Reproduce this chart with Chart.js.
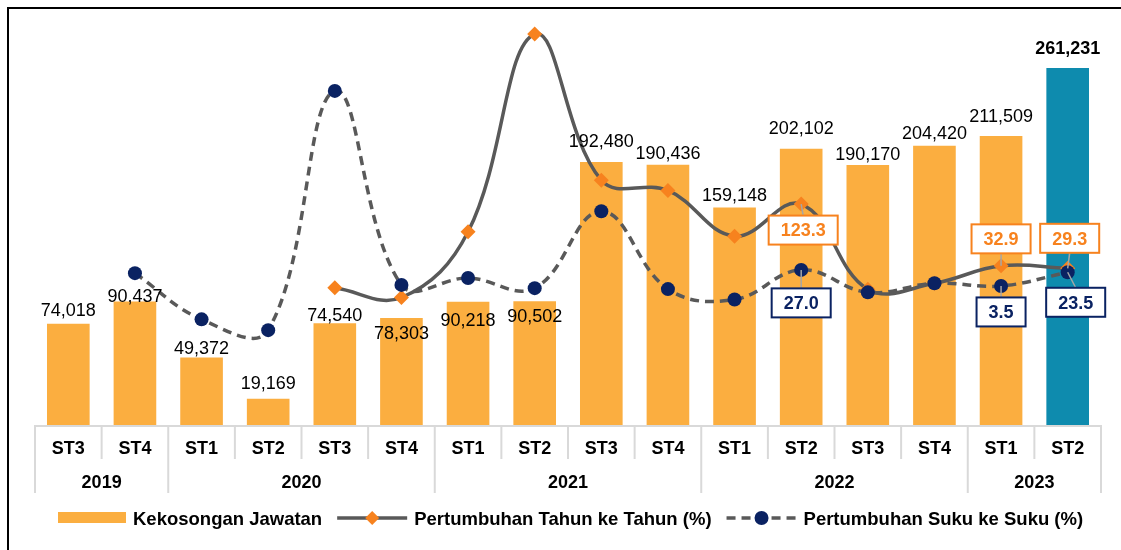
<!DOCTYPE html>
<html>
<head>
<meta charset="utf-8">
<script src="https://cdn.jsdelivr.net/npm/chart.js@4.4.0/dist/chart.umd.min.js"></script>
<style>
html,body{margin:0;padding:0;background:#fff;}
#wrap{width:1121px;height:550px;position:relative;}
</style>
</head>
<body>
<div id="wrap"><canvas id="c" width="1121" height="550"></canvas></div>
<script>
// ---- data ----
const categories = ['ST3','ST4','ST1','ST2','ST3','ST4','ST1','ST2','ST3','ST4','ST1','ST2','ST3','ST4','ST1','ST2'];
const years = ['2019','2019','2020','2020','2020','2020','2021','2021','2021','2021','2022','2022','2022','2022','2023','2023'];
const vacancies = [74018,90437,49372,19169,74540,78303,90218,90502,192480,190436,159148,202102,190170,204420,211509,261231];
const yoyGrowth = [null,null,null,null,0.7,-13.4,82.7,372.1,158.2,143.2,76.4,123.3,-1.2,7.3,32.9,29.3];
const qoqGrowth = [null,22.2,-45.4,-61.2,288.9,5.0,15.2,0.3,112.7,-1.1,-16.4,27.0,-5.9,7.5,3.5,23.5];
const seriesNames = ['Kekosongan Jawatan','Pertumbuhan Tahun ke Tahun (%)','Pertumbuhan Suku ke Suku (%)'];
const calloutIndexes = [11,14,15];

// ---- styling (kept apart from data) ----
const FONT = '"Liberation Sans", Arial, sans-serif';
const ORANGE_BAR = '#FBAE40';
const TEAL_BAR = '#0E8BAE';
const LINE_GRAY = '#595959';
const DIAMOND = '#F7821E';
const NAVY = '#0A2262';
const AXIS_GRAY = '#D9D9D9';
// vertical offset of each bar label centre relative to the bar top (px)
const barLabelShift = [-14,-6,-10,-16,-9,15,18,14,-21,-12,-13,-21,-12,-13,-20,-20];
// callout box offsets relative to the point (px)
const yoyCalloutOffset = {11:[2,26],14:[0,-27],15:[2,-30]};
const qoqCalloutOffset = {11:[0,33],14:[0,26],15:[8,30]};

const deco = {
  id: 'deco',
  beforeDraw(chart) {
    const c = chart.ctx;
    c.save();
    c.fillStyle = '#fff';
    c.fillRect(0, 0, chart.width, chart.height);
    c.fillStyle = '#000';
    c.fillRect(7, 7, chart.width - 7, 2);
    c.fillRect(7, 7, 2, chart.height - 7);
    c.restore();
  },
  afterDatasetsDraw(chart) {
    const c = chart.ctx;
    const xs = chart.scales.x;
    const area = chart.chartArea;
    const n = categories.length;
    const step = xs.getPixelForValue(1) - xs.getPixelForValue(0);
    c.save();

    // ---- bar value labels ----
    const barMeta = chart.getDatasetMeta(2);
    c.textAlign = 'center';
    c.textBaseline = 'alphabetic';
    c.fillStyle = '#000';
    barMeta.data.forEach((bar, i) => {
      const last = i === n - 1;
      c.font = (last ? 'bold ' : '') + '18px ' + FONT;
      const cy = bar.y + barLabelShift[i];
      c.fillText(vacancies[i].toLocaleString('en-US'), bar.x, cy + 6.4);
    });

    // ---- category axis ----
    c.strokeStyle = AXIS_GRAY;
    c.lineWidth = 2;
    c.beginPath();
    c.moveTo(xs.getPixelForValue(0) - step / 2, area.bottom + 1);
    c.lineTo(xs.getPixelForValue(n - 1) + step / 2, area.bottom + 1);
    c.stroke();
    for (let i = 0; i <= n; i++) {
      const x = xs.getPixelForValue(0) - step / 2 + i * step;
      const yearEdge = i === 0 || i === n || years[i] !== years[i - 1];
      c.beginPath();
      c.moveTo(x, area.bottom);
      c.lineTo(x, yearEdge ? 493 : 459);
      c.stroke();
    }
    c.fillStyle = '#000';
    c.font = 'bold 18px ' + FONT;
    categories.forEach((lab, i) => c.fillText(lab, xs.getPixelForValue(i), 454));
    let start = 0;
    for (let i = 1; i <= n; i++) {
      if (i === n || years[i] !== years[start]) {
        const cx = (xs.getPixelForValue(start) + xs.getPixelForValue(i - 1)) / 2;
        c.fillText(years[start], cx, 487.5);
        start = i;
      }
    }

    // ---- callouts ----
    const drawCallout = (meta, values, offsets, color) => {
      calloutIndexes.forEach(i => {
        const pt = meta.data[i];
        const [dx, dy] = offsets[i];
        const txt = values[i].toFixed(1);
        c.font = 'bold 18px ' + FONT;
        const w = c.measureText(txt).width + 24;
        const h = 29;
        const bx = pt.x + dx, by = pt.y + dy;
        c.strokeStyle = '#A6A6A6';
        c.lineWidth = 1.5;
        c.beginPath();
        c.moveTo(pt.x, pt.y);
        c.lineTo(bx, dy > 0 ? by - h / 2 : by + h / 2);
        c.stroke();
        c.fillStyle = '#fff';
        c.fillRect(bx - w / 2, by - h / 2, w, h);
        c.strokeStyle = color;
        c.lineWidth = 2;
        c.strokeRect(bx - w / 2, by - h / 2, w, h);
        c.fillStyle = color;
        c.textAlign = 'center';
        c.fillText(txt, bx, by + 6.4);
      });
    };
    drawCallout(chart.getDatasetMeta(1), yoyGrowth, yoyCalloutOffset, DIAMOND);
    drawCallout(chart.getDatasetMeta(0), qoqGrowth, qoqCalloutOffset, NAVY);

    // ---- legend ----
    c.font = 'bold 18.5px ' + FONT;
    c.textAlign = 'left';
    const ly = 518;
    let x = 58;
    c.fillStyle = ORANGE_BAR;
    c.fillRect(x, ly - 6, 68, 11);
    x += 75;
    c.fillStyle = '#000';
    c.fillText(seriesNames[0], x, ly + 6.6);
    x += c.measureText(seriesNames[0]).width + 15;
    c.strokeStyle = LINE_GRAY;
    c.lineWidth = 3.5;
    c.setLineDash([]);
    c.beginPath(); c.moveTo(x, ly); c.lineTo(x + 70, ly); c.stroke();
    c.fillStyle = DIAMOND;
    c.beginPath();
    c.moveTo(x + 35, ly - 7); c.lineTo(x + 42, ly); c.lineTo(x + 35, ly + 7); c.lineTo(x + 28, ly); c.closePath(); c.fill();
    x += 77;
    c.fillStyle = '#000';
    c.fillText(seriesNames[1], x, ly + 6.6);
    x += c.measureText(seriesNames[1]).width + 15;
    c.setLineDash([9, 6]);
    c.beginPath(); c.moveTo(x, ly); c.lineTo(x + 70, ly); c.stroke();
    c.setLineDash([]);
    c.fillStyle = NAVY;
    c.beginPath(); c.arc(x + 35, ly, 7, 0, Math.PI * 2); c.fill();
    x += 77;
    c.fillStyle = '#000';
    c.fillText(seriesNames[2], x, ly + 6.6);

    c.restore();
  }
};

new Chart(document.getElementById('c'), {
  data: {
    labels: categories,
    datasets: [
      {
        type: 'line', label: seriesNames[2], data: qoqGrowth, yAxisID: 'y2',
        borderColor: LINE_GRAY, borderWidth: 3.5, borderDash: [9, 6], tension: 0.4,
        pointStyle: 'circle', pointRadius: 7, pointBackgroundColor: NAVY, pointBorderColor: NAVY,
        pointBorderWidth: 0, order: 1
      },
      {
        type: 'line', label: seriesNames[1], data: yoyGrowth, yAxisID: 'y2',
        borderColor: LINE_GRAY, borderWidth: 3.5, tension: 0.4,
        pointStyle: 'rectRot', pointRadius: 7.5, pointBackgroundColor: DIAMOND, pointBorderColor: DIAMOND,
        pointBorderWidth: 0, order: 2
      },
      {
        type: 'bar', label: seriesNames[0], data: vacancies, yAxisID: 'y',
        backgroundColor: ctx => ctx.dataIndex === vacancies.length - 1 ? TEAL_BAR : ORANGE_BAR,
        barPercentage: 0.64, categoryPercentage: 1, order: 3
      }
    ]
  },
  options: {
    responsive: false,
    animation: false,
    devicePixelRatio: 1,
    layout: { padding: { left: 35, right: 20, top: 15, bottom: 125 } },
    scales: {
      x: { display: false },
      y: { display: false, min: 0, max: 300000 },
      y2: { display: false, min: -200, max: 400, position: 'right' }
    },
    plugins: { legend: { display: false }, tooltip: { enabled: false } }
  },
  plugins: [deco]
});
</script>
</body>
</html>
